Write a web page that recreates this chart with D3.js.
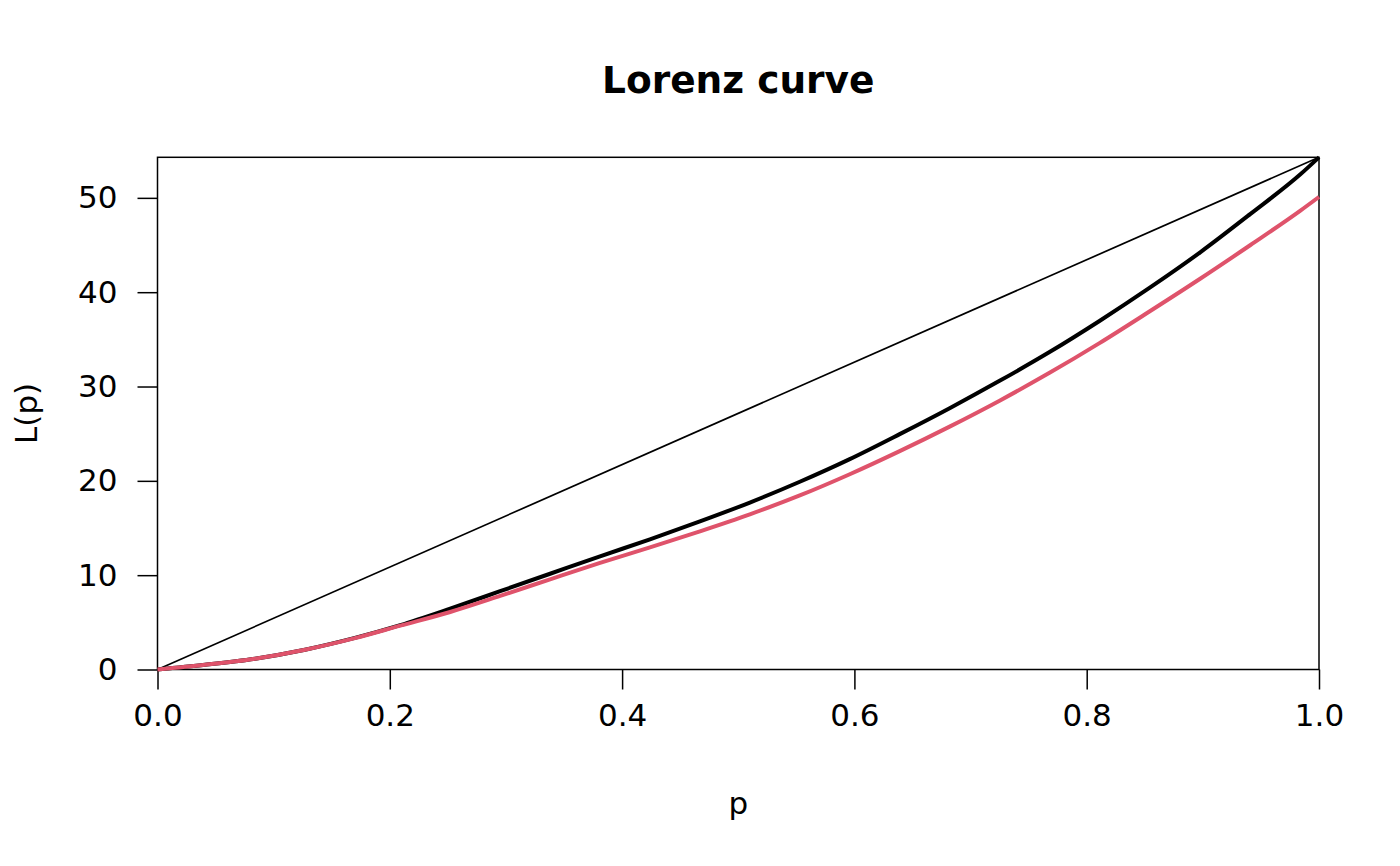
<!DOCTYPE html>
<html>
<head>
  <meta charset='utf-8'>
  <script src="https://d3js.org/d3.v7.min.js"></script>
  <style>
    body { margin: 0; background: #fff; }
    text { font-family: "DejaVu Sans", sans-serif; fill: #000; }
  </style>
</head>
<body>
  <div id="container"></div>
  <script type="text/javascript">

    // Lorenz curve values
    var p_black = [0, 0.041, 0.084, 0.127, 0.170, 0.209, 0.252, 0.295, 0.338, 0.381,
                   0.424, 0.467, 0.510, 0.553, 0.596, 0.639, 0.682, 0.725, 0.768, 0.811,
                   0.854, 0.898, 0.941, 0.984, 1];
    var L_black = [0, 0.5, 1.15, 2.1, 3.35, 4.7, 6.45, 8.3, 10.15, 12.0,
                   13.8, 15.7, 17.7, 19.9, 22.3, 24.95, 27.7, 30.6, 33.65, 36.95,
                   40.45, 44.25, 48.3, 52.5, 54.3];

    var p_red = [0, 0.041, 0.084, 0.127, 0.170, 0.209, 0.252, 0.295, 0.338, 0.381,
                 0.424, 0.467, 0.510, 0.553, 0.596, 0.639, 0.682, 0.725, 0.768, 0.811,
                 0.854, 0.898, 0.941, 0.984, 1];
    var L_red = [0, 0.5, 1.15, 2.1, 3.33, 4.65, 6.1, 7.8, 9.56, 11.3,
                 12.95, 14.65, 16.45, 18.45, 20.7, 23.15, 25.75, 28.5, 31.45, 34.6,
                 37.95, 41.45, 45.0, 48.65, 50.1];

    // line of equality
    var p_equal = [0, 1];
    var L_equal = [0, 54.3];

    var x_ticks = [0, 0.2, 0.4, 0.6, 0.8, 1.0];
    var y_ticks = [0, 10, 20, 30, 40, 50];

    var width = 1400, height = 866;
    var margin = {left: 157.5, right: 81, top: 157.3, bottom: 196.5};

    var svg = d3.select("#container").append("svg")
                .attr("width", width)
                .attr("height", height);

    var x = d3.scaleLinear().domain([0, 1]).range([margin.left, width - margin.right]);
    var y = d3.scaleLinear().domain([0, 54.3]).range([height - margin.bottom, margin.top]);

    var zip = function(a, b) { return a.map(function(v, i) { return [v, b[i]]; }); };

    var line = d3.line()
                 .x(function(d) { return x(d[0]); })
                 .y(function(d) { return y(d[1]); })
                 .curve(d3.curveMonotoneX);

    // box
    svg.append("rect")
       .attr("x", x(0)).attr("y", y(54.3))
       .attr("width", x(1) - x(0)).attr("height", y(0) - y(54.3))
       .attr("fill", "none").attr("stroke", "#000").attr("stroke-width", 1.5);

    // axes, R style
    var x_axis = d3.axisBottom(x).tickValues(x_ticks).tickSize(20).tickPadding(14)
                   .tickFormat(d3.format(".1f"));
    var gx = svg.append("g").attr("transform", "translate(0," + y(0) + ")").call(x_axis);
    gx.select(".domain").remove();
    gx.selectAll("line").attr("stroke", "#000").attr("stroke-width", 1.5);
    gx.selectAll("text").attr("font-size", 31).attr("font-family", "DejaVu Sans").attr("fill", "#000");

    var y_axis = d3.axisLeft(y).tickValues(y_ticks).tickSize(20).tickPadding(20);
    var gy = svg.append("g").attr("transform", "translate(" + x(0) + ",0)").call(y_axis);
    gy.select(".domain").remove();
    gy.selectAll("line").attr("stroke", "#000").attr("stroke-width", 1.5);
    gy.selectAll("text").attr("font-size", 31).attr("font-family", "DejaVu Sans").attr("fill", "#000");

    // curves
    svg.append("path").datum(zip(p_equal, L_equal))
       .attr("d", line).attr("fill", "none")
       .attr("stroke", "#000").attr("stroke-width", 1.7);

    svg.append("path").datum(zip(p_black, L_black))
       .attr("d", line).attr("fill", "none")
       .attr("stroke", "#000").attr("stroke-width", 4);

    svg.append("path").datum(zip(p_red, L_red))
       .attr("d", line).attr("fill", "none")
       .attr("stroke", "#DF536B").attr("stroke-width", 4);

    // titles
    svg.append("text").attr("x", (x(0) + x(1)) / 2).attr("y", 93)
       .attr("text-anchor", "middle").attr("font-size", 37.5).attr("font-weight", "bold")
       .text("Lorenz curve");

    svg.append("text").attr("x", (x(0) + x(1)) / 2).attr("y", 814)
       .attr("text-anchor", "middle").attr("font-size", 31)
       .text("p");

    svg.append("text")
       .attr("transform", "translate(37," + (y(0) + y(54.3)) / 2 + ") rotate(-90)")
       .attr("text-anchor", "middle").attr("font-size", 31)
       .text("L(p)");

  </script>
</body>
</html>
